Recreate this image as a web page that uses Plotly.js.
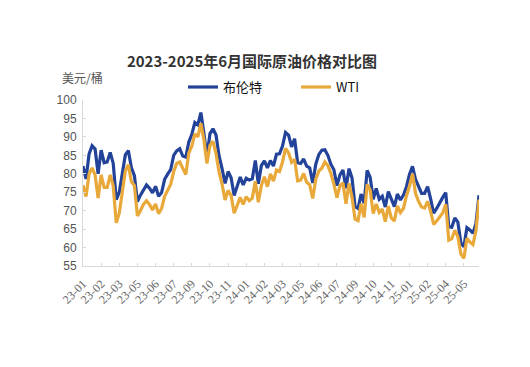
<!DOCTYPE html>
<html><head><meta charset="utf-8">
<script src="https://cdn.plot.ly/plotly-3.0.1.min.js"></script>
<style>html,body{margin:0;padding:0;background:#fff;}#chart{width:530px;height:367px;}</style>
</head><body><div id="chart"></div>
<script>
// Brent (布伦特), USD/bbl, sampled roughly weekly from 2023-01 to 2025-06
const brent = [82.1,78.6,85.3,87.6,86.7,80.0,86.4,83.0,83.2,85.8,
82.8,73.0,75.0,79.8,85.1,86.3,81.7,79.5,72.5,74.2,
75.6,77.0,76.1,74.8,76.6,73.9,74.9,78.5,79.9,81.1,
85.0,86.2,86.8,84.8,84.5,88.6,90.7,93.9,93.3,96.6,
90.9,84.6,90.9,92.2,90.5,84.9,81.4,77.4,80.6,78.9,
74.1,76.6,79.1,77.0,78.8,78.3,78.6,83.6,77.3,82.2,
83.5,81.6,83.6,82.1,85.3,85.4,87.5,91.2,90.5,87.3,
89.5,83.0,82.8,84.0,82.1,81.6,77.5,82.6,85.2,86.4,
86.5,85.0,82.6,81.1,76.8,79.7,81.0,76.1,81.4,78.8,
71.1,70.6,74.5,72.0,80.9,79.0,73.1,76.0,73.1,73.9,
71.0,75.2,72.9,71.1,74.5,72.9,74.2,76.5,79.8,82.0,
78.5,76.8,74.7,74.7,76.5,73.2,69.3,70.6,72.2,73.6,
74.9,65.6,65.5,68.0,66.9,61.3,60.2,65.4,64.8,63.9,
66.5,74.2];
// WTI, USD/bbl, same sampling
const wti = [76.9,73.8,79.9,81.6,79.7,73.4,79.7,76.3,76.3,79.7,
76.7,66.7,69.3,75.7,80.7,82.5,77.9,76.8,68.6,70.0,
71.7,72.7,71.7,70.2,71.8,69.2,70.6,73.9,75.4,77.1,
80.6,82.8,83.2,81.3,79.8,85.6,87.5,90.8,90.0,93.7,
89.2,82.8,87.7,88.8,85.5,80.5,77.2,72.9,75.5,74.1,
69.3,71.4,73.6,71.7,73.8,72.7,73.4,78.0,72.3,76.8,
79.2,76.5,80.0,78.0,81.0,80.6,83.2,86.9,85.7,83.1,
83.9,78.1,78.3,80.1,77.7,77.0,73.3,78.5,80.7,81.5,
83.2,82.2,80.1,77.2,73.5,76.8,77.5,71.9,77.4,73.6,
67.7,67.3,71.9,68.2,77.1,75.6,69.2,71.8,69.5,70.4,
67.0,71.2,68.0,67.2,71.3,69.5,70.6,74.0,76.6,80.0,
74.7,72.5,71.0,70.7,72.5,69.8,66.3,67.2,68.3,69.4,
71.7,62.0,62.4,64.7,63.0,58.3,57.1,62.5,61.5,60.8,
64.6,73.0];
const tickLabels = ['23-01','23-02','23-03','23-05','23-06','23-07','23-09','23-10','23-11',
'24-01','24-02','24-03','24-05','24-06','24-07','24-09','24-10','24-11',
'25-01','25-02','25-04','25-05'];
const labelEvery = 6;

const xIdx = brent.map((_, i) => i);
const tickVals = tickLabels.map((_, k) => k * labelEvery);

const traces = [
  {x: xIdx, y: brent, name: '布伦特', type: 'scatter', mode: 'lines',
   line: {color: '#23439a', width: 3.2}},
  {x: xIdx, y: wti, name: 'WTI', type: 'scatter', mode: 'lines',
   line: {color: '#e9a93a', width: 3.2}}
];

const layout = {
  width: 530, height: 367,
  margin: {l: 83, r: 51, t: 100, b: 101},
  paper_bgcolor: '#fff', plot_bgcolor: '#fff',
  title: {text: '<b>2023-2025年6月国际原油价格对比图</b>',
    font: {family: 'Noto Sans CJK SC', size: 15, color: '#333'},
    xref: 'container', x: 252/530, xanchor: 'center',
    yref: 'container', y: 1 - 62/367, yanchor: 'middle'},
  showlegend: true,
  legend: {orientation: 'h', x: 0.2525, xanchor: 'left', y: 1.078, yanchor: 'middle',
    entrywidth: 68, entrywidthmode: 'pixels', itemwidth: 30,
    font: {family: 'Noto Sans CJK SC', size: 13, color: '#111'},
    bgcolor: 'rgba(0,0,0,0)'},
  xaxis: {range: [0, brent.length - 1], tickmode: 'array', tickvals: tickVals, ticktext: tickLabels,
    tickangle: -45, showgrid: false, zeroline: false, showline: true, linecolor: '#d9d9d9',
    ticks: 'inside', ticklen: 3, tickcolor: '#d9d9d9', ticklabelstandoff: 5,
    tickfont: {family: 'Liberation Serif', size: 12, color: '#666'}},
  yaxis: {range: [55, 100], dtick: 5, showgrid: false, zeroline: false, showline: true,
    linecolor: '#d9d9d9', ticks: 'inside', ticklen: 3, tickcolor: '#d9d9d9',
    ticklabelstandoff: 3,
    tickfont: {family: 'Liberation Sans', size: 12, color: '#555'}},
  annotations: [{text: '美元/桶', xref: 'paper', yref: 'paper', x: -0.058, y: 1.133,
    xanchor: 'left', yanchor: 'middle', showarrow: false,
    font: {family: 'Noto Sans CJK SC', size: 12, color: '#555'}}]
};

Plotly.newPlot('chart', traces, layout, {displayModeBar: false, staticPlot: true});
</script></body></html>
